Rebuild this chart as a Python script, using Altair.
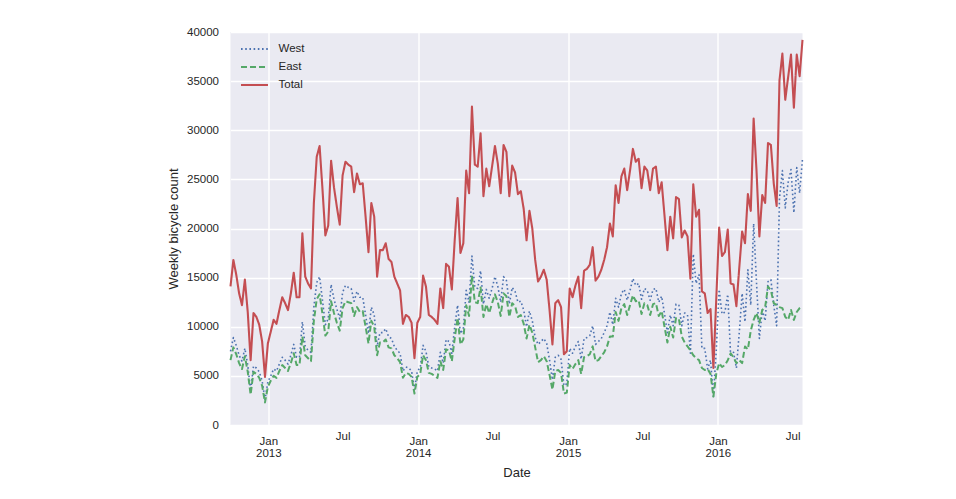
import altair as alt
import pandas as pd

# Weekly periods (week starting Mondays), first week 2012-10-01
first_week = "2012-10-01"

total = [
    14100, 16800, 15300, 13400, 12200, 14800, 11500, 6600, 11400, 11000,
    10200, 8500, 4900, 8300, 9500, 10700, 10300, 11700, 13000, 12400,
    11700, 13400, 15500, 13000, 13000, 19500, 15100, 14400, 13900, 22600,
    27300, 28400, 24000, 19300, 20300, 26900, 24200, 22200, 20400, 25400,
    26800, 26500, 26300, 23700, 25600, 24500, 24600, 21200, 17600, 22600,
    21200, 15100, 17800, 17800, 18500, 16900, 16600, 15100, 14400, 13700,
    10300, 11200, 11000, 10400, 6800, 10400, 11000, 15200, 14100, 11200,
    11000, 10700, 10300, 13900, 11900, 16400, 16100, 13800, 18800, 23100,
    17500, 18500, 25900, 23600, 32400, 26500, 26300, 29700, 23300, 26100,
    24300, 26300, 28400, 26600, 23600, 28500, 27800, 23300, 26400, 25700,
    23500, 23800, 22000, 18800, 21800, 20000, 16800, 14600, 15100, 15800,
    14800, 11700, 8200, 12400, 12700, 12000, 7200, 7500, 13900, 13000,
    14200, 15100, 11900, 15700, 15900, 16300, 18100, 14700, 15100, 15800,
    16800, 18100, 20500, 19200, 24400, 22600, 25300, 26100, 23900, 25900,
    28100, 26800, 27100, 24100, 26300, 25900, 23900, 26100, 26300, 23600,
    24700, 21300, 17800, 21200, 19000, 23200, 23000, 19100, 19800, 19200,
    14900, 24500, 21200, 21900, 13600, 13400, 11400, 11800, 5800, 12800,
    20100, 17200, 17600, 19900, 14400, 14300, 12100, 16000, 19700, 18500,
    23500, 21800, 31200, 25900, 19200, 23400, 22600, 28700, 28500, 24600,
    22300, 35100, 37800, 33100, 35400, 37700, 32300, 37700, 35500, 39200,
]

east = [
    6600, 7900, 7200, 6300, 5700, 7000, 5400, 3100, 5400, 5200,
    4800, 4000, 2300, 3900, 4500, 5000, 4800, 5500, 6100, 5800,
    5500, 6300, 7300, 6100, 6100, 9000, 7100, 6800, 6500, 10600,
    12800, 13300, 11300, 9100, 9500, 12600, 11400, 10400, 9600, 11900,
    12600, 12500, 12400, 11100, 12000, 11500, 11600, 10000, 8300, 10600,
    10000, 7100, 8400, 8400, 8700, 7900, 7800, 7100, 6800, 6400,
    4800, 5300, 5200, 4900, 3200, 4900, 5200, 7100, 6600, 5300,
    5200, 5000, 4800, 6500, 5600, 7700, 7600, 6500, 8800, 10900,
    8200, 8700, 12200, 11100, 15200, 12500, 12400, 14000, 11000, 12300,
    11400, 12400, 13300, 12500, 11100, 13400, 13100, 11000, 12400, 12100,
    11000, 11200, 10300, 8800, 10200, 9400, 7900, 6400, 6600, 7000,
    6500, 5100, 3600, 5500, 5600, 5300, 3200, 3300, 6100, 5700,
    6200, 6600, 5200, 6900, 7000, 7200, 8000, 6500, 6600, 7000,
    7400, 8000, 9000, 9000, 11500, 10600, 11900, 12300, 11200, 12200,
    13200, 12600, 12700, 11300, 12400, 12200, 11200, 12300, 12400, 11100,
    11600, 10000, 8400, 10000, 8900, 10900, 10800, 9000, 8400, 8000,
    7600, 7100, 6800, 6600, 5800, 5600, 5700, 5200, 2900, 5200,
    6300, 5900, 6100, 6600, 7300, 6900, 6300, 6600, 6300, 8000,
    7700, 9600, 10700, 11400, 10400, 11700, 12000, 14100, 13700, 12400,
    12200, 12000, 11900, 11000, 10700, 11700, 10700, 11500, 11900, 12100,
]

west = [
    7500, 8900, 8100, 7100, 6500, 7800, 6100, 3500, 6000, 5800,
    5400, 4500, 2600, 4400, 5000, 5700, 5500, 6200, 6900, 6600,
    6200, 7100, 8200, 6900, 6900, 10500, 8000, 7600, 7400, 12000,
    14500, 15100, 12700, 10200, 10800, 14300, 12800, 11800, 10800, 13500,
    14200, 14000, 13900, 12600, 13600, 13000, 13000, 11200, 9300, 12000,
    11200, 8000, 9400, 9400, 9800, 9000, 8800, 8000, 7600, 7300,
    5500, 5900, 5800, 5500, 3600, 5500, 5800, 8100, 7500, 5900,
    5800, 5700, 5500, 7400, 6300, 8700, 8500, 7300, 10000, 12200,
    9300, 9800, 13700, 12500, 17200, 14000, 13900, 15700, 12300, 13800,
    12900, 13900, 15100, 14100, 12500, 15100, 14700, 12300, 14000, 13600,
    12500, 12600, 11700, 10000, 11600, 10600, 8900, 8200, 8500, 8800,
    8300, 6600, 4600, 6900, 7100, 6700, 4000, 4200, 7800, 7300,
    8000, 8500, 6700, 8800, 8900, 9100, 10100, 8200, 8500, 8800,
    9400, 10100, 11500, 10200, 12900, 12000, 13400, 13800, 12700, 13700,
    14900, 14200, 14400, 12800, 13900, 13700, 12700, 13800, 13900, 12500,
    13100, 11300, 9400, 11200, 10100, 12300, 12200, 10100, 11400, 11200,
    7300, 17400, 14400, 15300, 7800, 7800, 5700, 6600, 2900, 7600,
    13800, 11300, 11500, 13300, 7100, 7400, 5800, 9400, 13400, 10500,
    15800, 12200, 20500, 14500, 8800, 11700, 10600, 14600, 14800, 12200,
    10100, 23100, 25900, 22100, 24700, 26000, 21600, 26200, 23600, 27100,
]

series_names = ["West", "East", "Total"]
series_colors = ["#4C72B0", "#55A868", "#C44E52"]
series_dashes = [[1.6, 2.6], [6, 3], [1, 0]]
series_widths = [1.6, 2.0, 2.1]

tick_years = [2013, 2014, 2015, 2016]
y_ticks = [0, 5000, 10000, 15000, 20000, 25000, 30000, 35000, 40000]

dates = pd.date_range(first_week, periods=len(total), freq="7D")
wide = pd.DataFrame({"Date": dates, "West": west, "East": east, "Total": total})
df = wide.melt(id_vars="Date", var_name="series", value_name="count")

FONT = "Liberation Sans"
TXT = "#262626"

x_values = []
for yr in tick_years:
    x_values.append(alt.DateTime(year=yr, month=1, date=1))
    x_values.append(alt.DateTime(year=yr, month=7, date=1))

is_jan = "month(datum.value) == 0"

x_enc = alt.X(
    "Date:T",
    scale=alt.Scale(
        domain=[alt.DateTime(year=2012, month=10, date=1),
                alt.DateTime(year=2016, month=7, date=25)],
        nice=False,
    ),
    axis=alt.Axis(
        values=x_values,
        labelExpr="month(datum.value) == 0 ? ['Jan', '' + year(datum.value)] : 'Jul'",
        title="Date",
        grid=True,
        gridOpacity={"condition": {"test": is_jan, "value": 1}, "value": 0},
        labelPadding={"condition": {"test": is_jan, "value": 10}, "value": 5},
        labelLineHeight=12,
        titlePadding=8,
    ),
)

y_enc = alt.Y(
    "count:Q",
    scale=alt.Scale(domain=[0, 40000], nice=False),
    axis=alt.Axis(
        values=y_ticks,
        format="d",
        title="Weekly bicycle count",
        labelPadding=12,
        titlePadding=6,
    ),
)

color_enc = alt.Color(
    "series:N",
    scale=alt.Scale(domain=series_names, range=series_colors),
    legend=alt.Legend(
        title=None,
        orient="none",
        legendX=16,
        legendY=9,
        symbolType="M-2,0H2",
        symbolSize=182,
        symbolStrokeWidth=2,
        labelOffset=16,
        rowPadding=4,
        padding=0,
        labelFontSize=11.5,
        labelFont=FONT,
        labelColor=TXT,
    ),
)
dash_enc = alt.StrokeDash(
    "series:N",
    scale=alt.Scale(domain=series_names, range=series_dashes),
    legend=alt.Legend(title=None),
)

layers = []
for name, w in zip(series_names, series_widths):
    layers.append(
        alt.Chart(df)
        .transform_filter(alt.datum.series == name)
        .mark_line(strokeWidth=w, strokeCap="butt", strokeJoin="round")
        .encode(x=x_enc, y=y_enc, color=color_enc, strokeDash=dash_enc)
    )

chart = (
    alt.layer(*layers)
    .properties(
        width=572,
        height=393,
        autosize=alt.AutoSizeParams(type="none"),
        padding={"left": 222.5, "top": 24, "right": 145, "bottom": 66},
    )
    .configure_view(fill="#EAEAF2", strokeWidth=0)
    .configure_axis(
        domain=False,
        ticks=False,
        gridColor="white",
        gridWidth=1.4,
        labelFont=FONT,
        labelFontSize=11.5,
        labelColor=TXT,
        titleFont=FONT,
        titleFontSize=13,
        titleFontWeight="normal",
        titleColor=TXT,
    )
)

chart.save("out.html", embed_options={"renderer": "svg", "actions": False})
